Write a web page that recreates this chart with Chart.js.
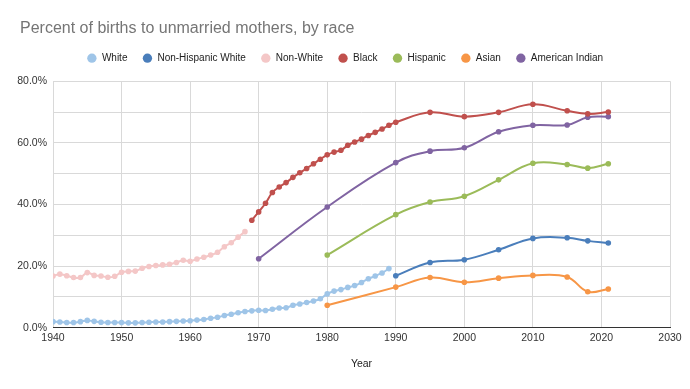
<!DOCTYPE html>
<html>
<head>
<meta charset="utf-8">
<script src="https://cdn.jsdelivr.net/npm/chart.js@4"></script>
<style>
  html, body { margin: 0; padding: 0; background: #fff; }
  #wrap { width: 690px; height: 389px; }
</style>
</head>
<body>
<div id="wrap"><canvas id="chart" width="690" height="389"></canvas></div>
<script>
// Years and values (percent)
const whiteYears = [1940, 1941, 1942, 1943, 1944, 1945, 1946, 1947, 1948, 1949,
    1950, 1951, 1952, 1953, 1954, 1955, 1956, 1957, 1958, 1959,
    1960, 1961, 1962, 1963, 1964, 1965, 1966, 1967, 1968, 1969,
    1970, 1971, 1972, 1973, 1974, 1975, 1976, 1977, 1978, 1979,
    1980, 1981, 1982, 1983, 1984, 1985, 1986, 1987, 1988, 1989];
const whiteValues = [2.0, 1.9, 1.7, 1.7, 2.0, 2.4, 2.1, 1.8, 1.7, 1.7,
    1.7, 1.6, 1.6, 1.7, 1.8, 1.9, 1.9, 2.0, 2.1, 2.2,
    2.3, 2.5, 2.7, 3.1, 3.4, 4.0, 4.4, 4.9, 5.3, 5.5,
    5.7, 5.6, 6.0, 6.4, 6.5, 7.3, 7.7, 8.2, 8.7, 9.4,
    11.0, 11.9, 12.4, 13.1, 13.7, 14.7, 15.9, 16.8, 17.8, 19.2];

const nonWhiteYears = [1940, 1941, 1942, 1943, 1944, 1945, 1946, 1947, 1948, 1949,
    1950, 1951, 1952, 1953, 1954, 1955, 1956, 1957, 1958, 1959,
    1960, 1961, 1962, 1963, 1964, 1965, 1966, 1967, 1968];
const nonWhiteValues = [16.8, 17.4, 16.9, 16.3, 16.3, 17.9, 17.0, 16.8, 16.4, 16.7,
    18.0, 18.3, 18.4, 19.3, 19.9, 20.2, 20.4, 20.6, 21.2, 21.9,
    21.6, 22.3, 22.9, 23.6, 24.5, 26.3, 27.6, 29.4, 31.2];

const blackYears = [1969, 1970, 1971, 1972, 1973, 1974, 1975, 1976, 1977, 1978, 1979,
    1980, 1981, 1982, 1983, 1984, 1985, 1986, 1987, 1988, 1989, 1990,
    1995, 2000, 2005, 2010, 2015, 2018, 2021];
const blackValues = [34.9, 37.6, 40.4, 43.9, 45.7, 47.1, 48.8, 50.3, 51.7, 53.2, 54.7,
    56.1, 57.0, 57.6, 59.2, 60.3, 61.2, 62.4, 63.4, 64.5, 65.7, 66.7,
    69.9, 68.5, 69.9, 72.5, 70.4, 69.4, 70.0];

const nhWhiteYears = [1990, 1995, 2000, 2005, 2010, 2015, 2018, 2021];
const nhWhiteValues = [16.9, 21.2, 22.1, 25.3, 29.0, 29.2, 28.2, 27.5];

const hispanicYears = [1980, 1990, 1995, 2000, 2005, 2010, 2015, 2018, 2021];
const hispanicValues = [23.6, 36.7, 40.8, 42.7, 48.0, 53.4, 53.0, 51.8, 53.2];

const asianYears = [1980, 1990, 1995, 2000, 2005, 2010, 2015, 2018, 2021];
const asianValues = [7.3, 13.2, 16.3, 14.8, 16.1, 17.0, 16.5, 11.7, 12.6];

const amIndianYears = [1970, 1980, 1990, 1995, 2000, 2005, 2010, 2015, 2018, 2021];
const amIndianValues = [22.4, 39.2, 53.6, 57.3, 58.4, 63.6, 65.7, 65.8, 68.3, 68.5];

const xTicks = [1940, 1950, 1960, 1970, 1980, 1990, 2000, 2010, 2020, 2030];

function points(years, values) {
    return years.map((y, i) => ({ x: y, y: values[i] }));
}

function series(label, years, values, color) {
    return {
        label: label,
        data: points(years, values),
        borderColor: color,
        backgroundColor: color,
        pointBackgroundColor: color,
        pointBorderColor: color,
        pointRadius: 2.8,
        pointBorderWidth: 0,
        borderWidth: 2,
        tension: 0.4
    };
}

const FONT = "'Liberation Sans', Arial, sans-serif";

// small tweaks: title sits 20px in from the left, legend centred on the page, room under it
const layoutTweaks = {
    id: 'layoutTweaks',
    beforeLayout(chart) {
        const lg = chart.legend;
        if (lg && !lg._patched) {
            const orig = lg.fit;
            lg.fit = function () { orig.call(this); this.height += 8; };
            lg._patched = true;
        }
    },
    afterLayout(chart) {
        if (chart.titleBlock) chart.titleBlock.left = 20;
        if (chart.legend) {
            chart.legend.left += 10;
            chart.legend.right += 10;
        }
    }
};

new Chart(document.getElementById('chart').getContext('2d'), {
    type: 'line',
    data: {
        datasets: [
            series('White', whiteYears, whiteValues, '#9fc5e8'),
            series('Non-Hispanic White', nhWhiteYears, nhWhiteValues, '#4a7ebb'),
            series('Non-White', nonWhiteYears, nonWhiteValues, '#f4c7c7'),
            series('Black', blackYears, blackValues, '#c0504d'),
            series('Hispanic', hispanicYears, hispanicValues, '#9bbb59'),
            series('Asian', asianYears, asianValues, '#f79646'),
            series('American Indian', amIndianYears, amIndianValues, '#8064a2')
        ]
    },
    plugins: [layoutTweaks],
    options: {
        responsive: false,
        animation: false,
        events: [],
        layout: { padding: { left: 0, right: 20, top: 10, bottom: 15 } },
        plugins: {
            title: {
                display: true,
                text: 'Percent of births to unmarried mothers, by race',
                align: 'start',
                color: '#757575',
                font: { family: FONT, size: 16, weight: 'normal' },
                padding: { top: 9, bottom: 0 }
            },
            legend: {
                display: true,
                position: 'top',
                labels: {
                    usePointStyle: true,
                    pointStyle: 'circle',
                    boxWidth: 10,
                    boxHeight: 6.6,
                    padding: 15,
                    color: '#222',
                    font: { family: FONT, size: 10 }
                }
            },
            tooltip: { enabled: false }
        },
        scales: {
            x: {
                type: 'linear',
                min: 1940,
                max: 2030,
                afterBuildTicks: (scale) => { scale.ticks = xTicks.map(v => ({ value: v })); },
                ticks: {
                    color: '#333',
                    font: { family: FONT, size: 10.5 },
                    padding: 4,
                    maxRotation: 0,
                    callback: (v) => String(v)
                },
                grid: { color: '#d9d9d9', drawTicks: false },
                border: { color: '#333', width: 1 },
                title: {
                    display: true,
                    text: 'Year',
                    color: '#222',
                    font: { family: FONT, size: 10.5 },
                    padding: { top: 9 }
                }
            },
            y: {
                min: 0,
                max: 80,
                afterFit: (scale) => { scale.width = 53; },
                ticks: {
                    stepSize: 10,
                    color: '#333',
                    font: { family: FONT, size: 10.5 },
                    padding: 6,
                    callback: (v) => (v % 20 === 0 ? v.toFixed(1) + '%' : '')
                },
                grid: { color: '#d9d9d9', drawTicks: false },
                border: { display: false }
            }
        }
    }
});
</script>
</body>
</html>
